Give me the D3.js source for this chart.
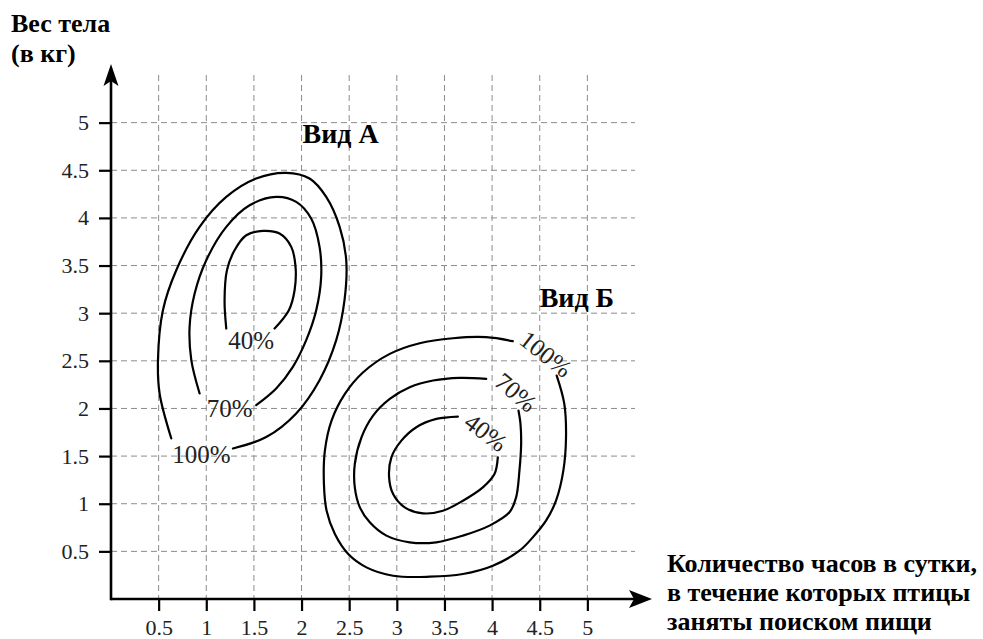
<!DOCTYPE html>
<html>
<head>
<meta charset="utf-8">
<script src="https://cdn.jsdelivr.net/npm/d3@7"></script>
<style>
  body { margin: 0; background: #fff; }
  svg { display: block; }
  svg text { font-family: "Liberation Serif", "Tinos", "Times New Roman", "Times", "Noto Serif", "DejaVu Serif", serif !important; }
</style>
</head>
<body>
<svg id="chart" width="983" height="639"></svg>
<script>
// ---- data ----
const xTicks = [0.5, 1, 1.5, 2, 2.5, 3, 3.5, 4, 4.5, 5];
const yTicks = [0.5, 1, 1.5, 2, 2.5, 3, 3.5, 4, 4.5, 5];

// Species A contours (hours, kg)
const contourA100 = [[0.633,1.685],[0.51,2.157],[0.493,2.507],[0.545,3.031],[0.685,3.451],[0.93,3.906],[1.21,4.22],[1.524,4.413],[1.84,4.472],[2.084,4.413],[2.259,4.22],[2.40,3.906],[2.469,3.556],[2.451,3.136],[2.364,2.717],[2.189,2.297],[1.944,1.948],[1.629,1.70],[1.28,1.58]];
const contourA70 = [[0.93,2.157],[0.843,2.507],[0.825,2.857],[0.878,3.206],[1.0,3.556],[1.21,3.906],[1.455,4.133],[1.734,4.22],[1.944,4.168],[2.101,3.993],[2.189,3.696],[2.206,3.381],[2.154,3.031],[2.049,2.717],[1.909,2.437],[1.734,2.21],[1.524,2.035]];
const contourA40 = [[1.21,2.839],[1.192,3.136],[1.217,3.451],[1.297,3.661],[1.42,3.818],[1.594,3.864],[1.769,3.836],[1.892,3.696],[1.937,3.486],[1.927,3.241],[1.867,3.031],[1.717,2.839]];

// Species B contours
const contourB100 = [[4.217,2.706],[3.938,2.748],[3.589,2.737],[3.240,2.685],[2.926,2.573],[2.647,2.380],[2.455,2.153],[2.315,1.873],[2.245,1.557],[2.235,1.207],[2.263,0.927],[2.350,0.682],[2.490,0.472],[2.681,0.332],[2.961,0.244],[3.345,0.234],[3.694,0.262],[4.008,0.349],[4.287,0.507],[4.427,0.647],[4.566,0.822],[4.671,1.032],[4.748,1.347],[4.776,1.697],[4.758,2.048],[4.678,2.345]];
const contourB70 = [[3.938,2.310],[3.659,2.321],[3.380,2.293],[3.135,2.223],[2.926,2.100],[2.751,1.925],[2.629,1.697],[2.559,1.417],[2.559,1.172],[2.612,0.962],[2.716,0.805],[2.891,0.665],[3.135,0.595],[3.414,0.595],[3.694,0.665],[3.973,0.770],[4.182,0.910],[4.252,1.067],[4.287,1.347],[4.305,1.627],[4.298,1.838],[4.277,1.978]];
const contourB40 = [[3.641,1.915],[3.415,1.890],[3.205,1.803],[3.048,1.662],[2.943,1.487],[2.919,1.277],[2.961,1.102],[3.083,0.962],[3.275,0.899],[3.484,0.927],[3.694,1.032],[3.903,1.172],[4.025,1.312],[4.060,1.487]];

const contours = [contourA100, contourA70, contourA40, contourB100, contourB70, contourB40];

// contour labels: [text, x, y, rotation]
const contourLabels = [
  ["40%", 1.472, 2.717, 0],
  ["70%", 1.245, 2.0, 0],
  ["100%", 0.948, 1.521, 0],
  ["100%", 4.566, 2.573, 38],
  ["70%", 4.252, 2.170, 40],
  ["40%", 3.938, 1.750, 37]
];

const speciesLabels = [["Вид А", 2.41, 4.89], ["Вид Б", 4.89, 3.17]];
const yTitle = ["Вес тела", "(в кг)"];
const xTitle = ["Количество часов в сутки,", "в течение которых птицы", "заняты поиском пищи"];

// ---- chart ----
const svg = d3.select("#chart");
const x = d3.scaleLinear().domain([0, 5.5]).range([111, 635]);
const y = d3.scaleLinear().domain([0, 5.5]).range([599, 75]);

// grid
const grid = svg.append("g").attr("stroke", "#8c8c8c").attr("stroke-width", 1).attr("stroke-dasharray", "6,4");
grid.selectAll("line.v").data(xTicks).join("line")
  .attr("x1", d => x(d)).attr("x2", d => x(d))
  .attr("y1", y.range()[1]).attr("y2", y.range()[0]);
grid.selectAll("line.h").data(yTicks).join("line")
  .attr("y1", d => y(d)).attr("y2", d => y(d))
  .attr("x1", x.range()[0]).attr("x2", x.range()[1]);

// axes
const xAxis = svg.append("g").attr("transform", `translate(0,${y(0)})`)
  .call(d3.axisBottom(x).tickValues(xTicks).tickSize(12).tickPadding(8).tickFormat(d3.format("")));
const yAxis = svg.append("g").attr("transform", `translate(${x(0)},0)`)
  .call(d3.axisLeft(y).tickValues(yTicks).tickSize(12).tickPadding(10).tickFormat(d3.format("")));
[xAxis, yAxis].forEach(g => {
  g.attr("font-family", null).attr("font-size", null);
  g.select(".domain").remove();
  g.selectAll(".tick line").attr("stroke", "#000").attr("stroke-width", 2.2);
  g.selectAll(".tick text").attr("fill", "#222").style("font-size", "22px");
});

// axis lines with arrows
const x0 = x(0), y0 = y(0);
const xEnd = 652, yEnd = 64;
svg.append("line").attr("x1", x0).attr("y1", y0).attr("x2", xEnd - 12).attr("y2", y0)
  .attr("stroke", "#000").attr("stroke-width", 2.6);
svg.append("line").attr("x1", x0).attr("y1", y0 + 1.3).attr("x2", x0).attr("y2", yEnd + 12)
  .attr("stroke", "#000").attr("stroke-width", 2.6);
svg.append("path")
  .attr("d", `M${xEnd},${y0} L${xEnd - 23},${y0 - 9} L${xEnd - 18},${y0} L${xEnd - 23},${y0 + 9} Z`)
  .attr("fill", "#000");
svg.append("path")
  .attr("d", `M${x0},${yEnd} L${x0 - 7.5},${yEnd + 22} L${x0},${yEnd + 17} L${x0 + 7.5},${yEnd + 22} Z`)
  .attr("fill", "#000");

// contours
const line = d3.line().x(d => x(d[0])).y(d => y(d[1])).curve(d3.curveCatmullRom.alpha(0.5));
svg.append("g").selectAll("path").data(contours).join("path")
  .attr("d", line).attr("fill", "none").attr("stroke", "#000").attr("stroke-width", 2.2)
  .attr("stroke-linecap", "round");

// contour labels
svg.append("g").selectAll("text").data(contourLabels).join("text")
  .attr("transform", d => `translate(${x(d[1])},${y(d[2])}) rotate(${d[3]})`)
  .attr("text-anchor", "middle").attr("dy", "0.35em")
  .attr("fill", "#222").style("font-size", "25px")
  .text(d => d[0]);

// species labels
svg.append("g").selectAll("text").data(speciesLabels).join("text")
  .attr("x", d => x(d[1])).attr("y", d => y(d[2]))
  .attr("text-anchor", "middle").attr("dy", "0.35em")
  .attr("font-weight", "bold").style("font-size", "28px").attr("fill", "#000")
  .text(d => d[0]);

// y title
svg.append("g").selectAll("text").data(yTitle).join("text")
  .attr("x", 11).attr("y", (d, i) => 32 + i * 30)
  .attr("font-weight", "bold").style("font-size", "26px").attr("fill", "#000")
  .text(d => d);

// x title
svg.append("g").selectAll("text").data(xTitle).join("text")
  .attr("x", 667).attr("y", (d, i) => 572 + i * 29)
  .attr("font-weight", "bold").style("font-size", "26px").attr("fill", "#000")
  .text(d => d);
</script>
</body>
</html>
